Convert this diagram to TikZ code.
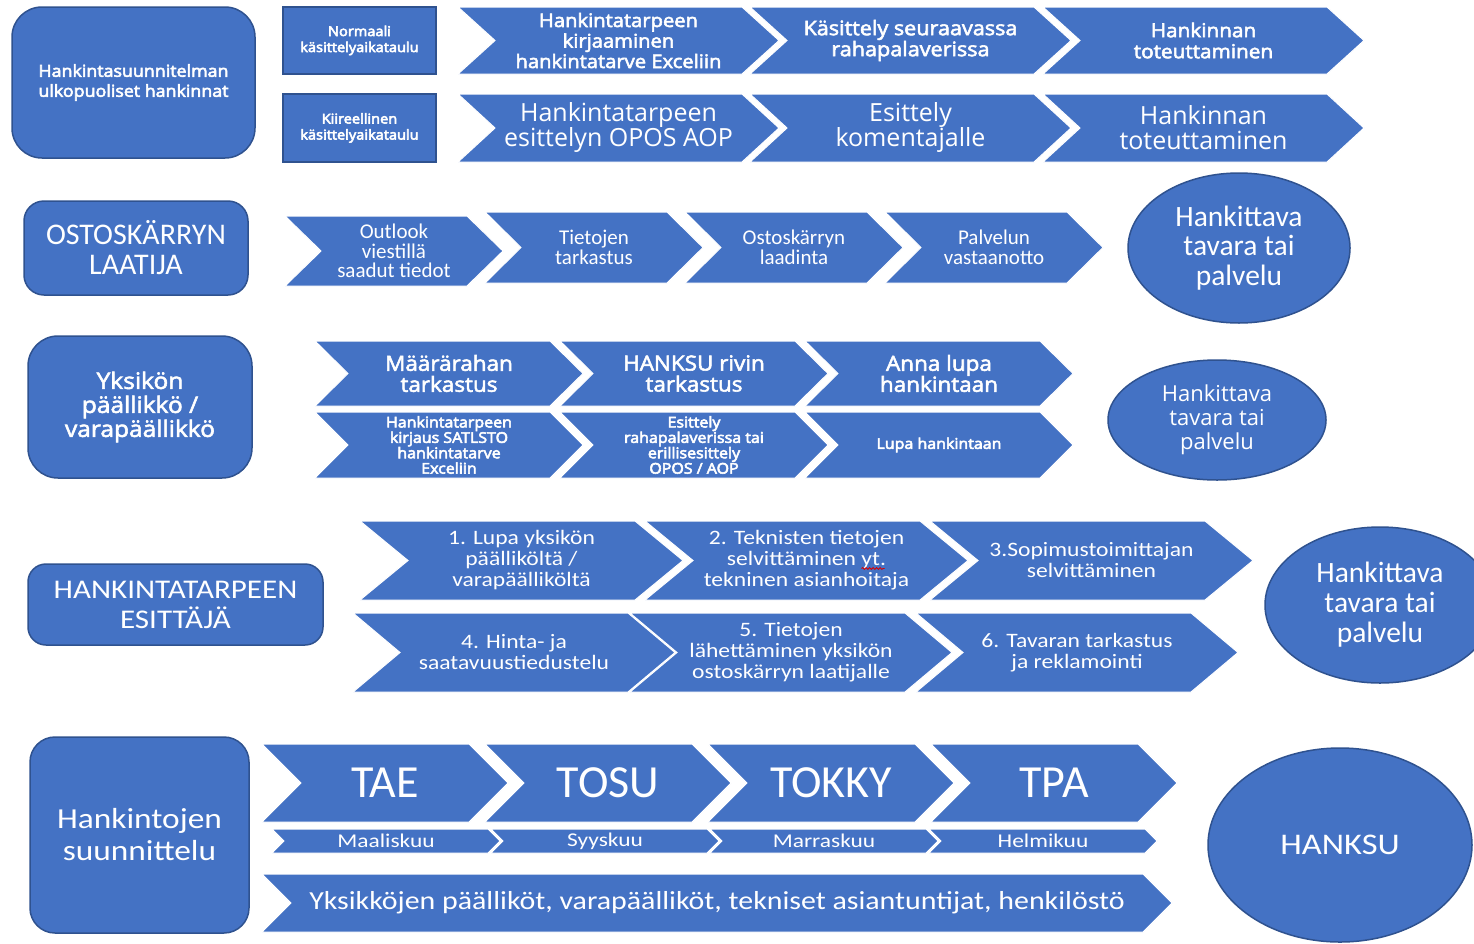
\documentclass[tikz,border=0pt]{standalone}
\usepackage{fontspec}
\setmainfont{Carlito}
\newfontfamily\seg{Open Sans}
\newfontfamily\segw{Open Sans}[FakeStretch=1.08]
\newfontfamily\calw{Carlito}[FakeStretch=1.15]
\newfontfamily\calm{Carlito}[FakeStretch=1.2]
\usetikzlibrary{shapes.geometric,decorations.pathmorphing}
\definecolor{fillblue}{HTML}{4472C4}
\definecolor{edgeblue}{HTML}{2F528F}
% size / exact leading
\newcommand{\fs}[2]{\fontsize{#1}{#2}\selectfont\lineskiplimit=-100pt\relax}
% chevron: [text options]{name}{left}{top}{bottom}{body width}{point depth}{text}
\newcommand{\chevron}[8][]{%
  \path[chev] (#3,#4) -- (#3+#6,#4) -- (#3+#6+#7,{(#4+#5)/2}) -- (#3+#6,#5)
    -- (#3,#5) -- (#3+#7,{(#4+#5)/2}) -- cycle;
  \node[lbl,#1] (#2) at ({#3+(#6+#7)/2},{(#4+#5)/2}) {#8};
}
\tikzset{
  chev/.style={fill=fillblue, draw=white, line width=1pt, line join=miter},
  box/.style={fill=fillblue, draw=edgeblue, line width=1.5pt},
  lbl/.style={text=white, align=center, inner sep=0pt},
  % semibold look: glyphs filled and thinly outlined
  semi/.style={execute at begin node={\special{pdf:literal direct 2 Tr 0.55 w}},
               execute at end node={\special{pdf:literal direct 0 Tr}}},
}
\begin{document}
\begin{tikzpicture}[x=1pt, y=-1pt]
\clip (0,0) rectangle (1474,943);
\fill[white] (0,0) rectangle (1474,943);

% ---------- purchases outside the procurement plan ----------
\node[box, lbl, semi, rounded corners=30, minimum width=243, minimum height=151,
      font=\segw\fs{16.5}{20}] (plan) at (133.5,82.5)
      {Hankintasuunnitelman\\ulkopuoliset hankinnat};
\node[box, lbl, semi, minimum width=153, minimum height=67,
      font=\segw\fs{13.5}{16}] (normal) at (359.5,40.5)
      {Normaali\\käsittelyaikataulu};
\node[box, lbl, semi, minimum width=153, minimum height=68,
      font=\segw\fs{13.5}{16}] (urgent) at (359.5,128)
      {Kiireellinen\\käsittelyaikataulu};

\chevron[semi, font=\segw\fs{18.7}{20.5}]{n1}{458}{7}{74}{284}{37}{Hankintatarpeen\\kirjaaminen\\hankintatarve Exceliin}
\chevron[semi, font=\segw\fs{20}{21}]{n2}{750}{7}{74}{284}{37}{Käsittely seuraavassa\\rahapalaverissa}
\chevron[semi, font=\segw\fs{19.2}{21}]{n3}{1043}{7}{74}{284}{37}{Hankinnan\\toteuttaminen}

\chevron[font=\seg\fs{25}{25}]{u1}{458}{94}{162}{284}{37}{Hankintatarpeen\\esittelyn OPOS AOP}
\chevron[font=\seg\fs{25}{25}]{u2}{750}{94}{162}{284}{37}{Esittely\\komentajalle}
\chevron[font=\seg\fs{25}{25}]{u3}{1043}{94}{162}{284}{37}{Hankinnan\\toteuttaminen}

% ---------- shopping cart maker ----------
\node[box, lbl, rounded corners=20, minimum width=224, minimum height=94,
      font=\fs{30}{30}] (cart) at (136,248) {OSTOSKÄRRYN\\LAATIJA};
\chevron[font=\fs{21}{19.5}]{c1}{285}{216}{286}{182}{36}{Outlook\\viestillä\\saadut tiedot}
\chevron[font=\fs{21}{19.5}]{c2}{485}{212}{283}{182}{36}{Tietojen\\tarkastus}
\chevron[font=\fs{21}{19.5}]{c3}{685}{212}{283}{182}{36}{Ostoskärryn\\laadinta}
\chevron[font=\fs{21}{19.5}]{c4}{885}{212}{283}{182}{36}{Palvelun\\vastaanotto}
\node[box, lbl, ellipse, minimum width=222, minimum height=150,
      font=\fs{29.5}{29.5}] (goodsA) at (1239,248) {Hankittava\\tavara tai\\palvelu};

% ---------- unit head / deputy ----------
\node[box, lbl, semi, rounded corners=30, minimum width=224, minimum height=142,
      font=\segw\fs{22.7}{24}] (unit) at (140,407) {Yksikön\\päällikkö /\\varapäällikkö};
\chevron[semi, font=\segw\fs{20.8}{21}]{h1}{315}{341}{406}{235}{33}{Määrärahan\\tarkastus}
\chevron[semi, font=\segw\fs{20.8}{21}]{h2}{560}{341}{406}{235}{33}{HANKSU rivin\\tarkastus}
\chevron[semi, font=\segw\fs{20.8}{21}]{h3}{805}{341}{406}{235}{33}{Anna lupa\\hankintaan}
\chevron[semi, font=\segw\fs{14.8}{15.4}]{k1}{315}{412}{478}{235}{33}{Hankintatarpeen\\kirjaus SATLSTO\\hankintatarve\\Exceliin}
\chevron[semi, font=\segw\fs{14.8}{15.4}]{k2}{560}{412}{478}{235}{33}{Esittely\\rahapalaverissa tai\\erillisesittely\\OPOS / AOP}
\chevron[semi, font=\segw\fs{14.8}{15.4}]{k3}{805}{412}{478}{235}{33}{Lupa hankintaan}
\node[box, lbl, ellipse, minimum width=218, minimum height=120,
      font=\seg\fs{22}{24}] (goodsB) at (1217,420) {Hankittava\\tavara tai\\palvelu};

% ---------- person presenting the need ----------
\node[box, lbl, rounded corners=18, minimum width=295, minimum height=81,
      font=\calw\fs{27}{30}] (presenter) at (175.5,604.5) {HANKINTATARPEEN\\ESITTÄJÄ};
\chevron[font=\calw\fs{20.5}{21}]{p1}{360}{521}{600}{275}{48}{1. Lupa yksikön\\päälliköltä /\\varapäälliköltä}
\chevron[font=\calw\fs{20.5}{21}]{p2}{645}{521}{600}{275}{48}{2. Teknisten tietojen\\selvittäminen yt.\\tekninen asianhoitaja}
\chevron[font=\calw\fs{20.5}{21}]{p3}{930}{521}{600}{275}{48}{3.Sopimustoimittajan\\selvittäminen}
\chevron[font=\calw\fs{20.5}{21}]{p4}{353}{613}{692}{275}{47}{4. Hinta- ja\\saatavuustiedustelu}
\chevron[font=\calw\fs{20.5}{21}]{p5}{630}{613}{692}{275}{47}{5. Tietojen\\lähettäminen yksikön\\ostoskärryn laatijalle}
\chevron[font=\calw\fs{20.5}{21}]{p6}{916}{613}{692}{275}{47}{6. Tavaran tarkastus\\ja reklamointi}
% spell-check mark under the abbreviation
\draw[red!85!black, line width=0.8pt, decorate,
      decoration={snake, amplitude=1pt, segment length=3.5pt}]
  ([xshift=55pt, yshift=-8pt]p2.center) -- ([xshift=78pt, yshift=-8pt]p2.center);
\node[box, lbl, ellipse, minimum width=230, minimum height=156,
      font=\fs{29.5}{30}] (goodsC) at (1380,605) {Hankittava\\tavara tai\\palvelu};

% ---------- procurement planning ----------
\node[box, lbl, rounded corners=25, minimum width=219, minimum height=196,
      font=\calw\fs{29}{32}] (planning) at (139.5,835) {Hankintojen\\suunnittelu};
\chevron[font=\fs{46}{46}]{s1}{262}{744}{822}{207}{39}{TAE}
\chevron[font=\fs{46}{46}]{s2}{485}{744}{822}{207}{39}{TOSU}
\chevron[font=\fs{46}{46}]{s3}{708}{744}{822}{207}{39}{TOKKY}
\chevron[font=\fs{46}{46}]{s4}{931}{744}{822}{207}{39}{TPA}
\chevron[font=\calm\fs{19.5}{19.5}]{m1}{272}{829}{853}{216}{12}{Maaliskuu}
\chevron[font=\calm\fs{19.5}{19.5}]{m2}{491}{829}{853}{216}{12}{Syyskuu}
\chevron[font=\calm\fs{19.5}{19.5}]{m3}{710}{829}{853}{216}{12}{Marraskuu}
\chevron[font=\calm\fs{19.5}{19.5}]{m4}{929}{829}{853}{216}{12}{Helmikuu}
\chevron[font=\calw\fs{26}{26}]{who}{262}{874}{932}{881}{29}{Yksikköjen päälliköt, varapäälliköt, tekniset asiantuntijat, henkilöstö}
\node[box, lbl, ellipse, minimum width=264, minimum height=194,
      font=\calw\fs{30}{30}] (hanksu) at (1340,845) {HANKSU};
\end{tikzpicture}
\end{document}
